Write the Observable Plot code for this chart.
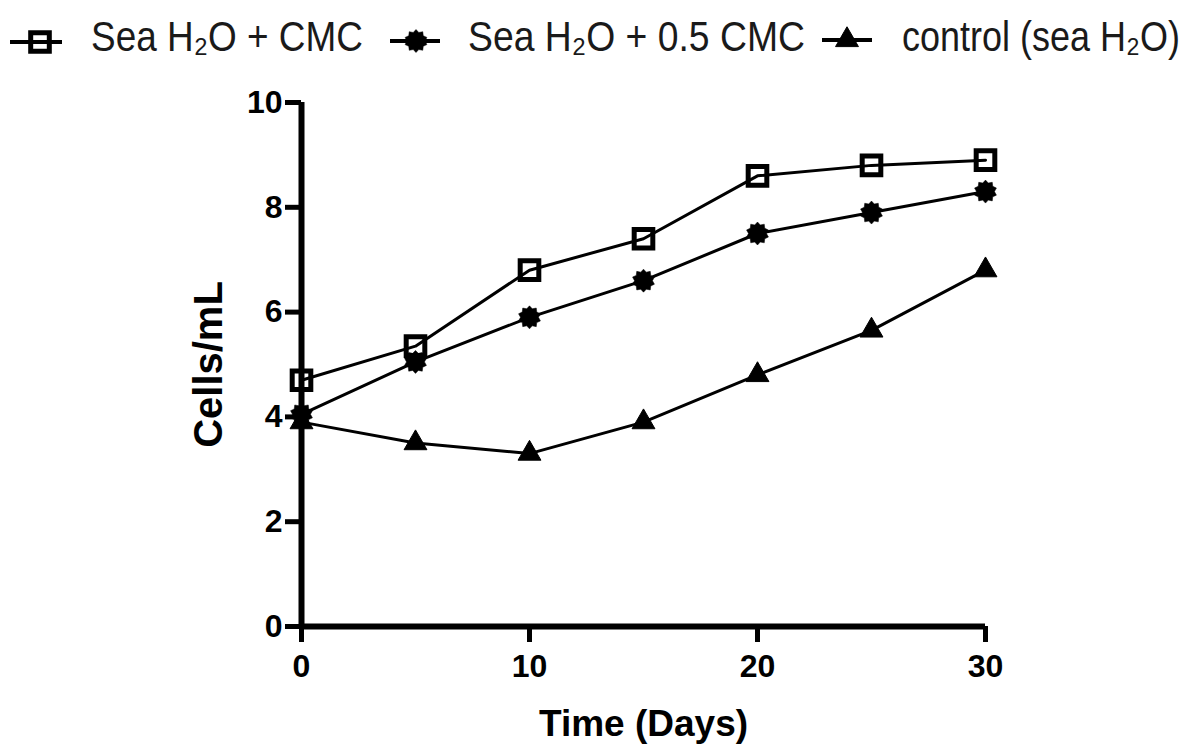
<!DOCTYPE html>
<html>
<head>
<meta charset="utf-8">
<script src="https://cdn.jsdelivr.net/npm/d3@7"></script>
<script src="https://cdn.jsdelivr.net/npm/@observablehq/plot@0.6"></script>
<style>
  html, body { margin: 0; padding: 0; background: #fff; }
  #wrap { position: relative; width: 1191px; height: 749px; overflow: hidden; }
  #legend { position: absolute; left: 0; top: 0; }
  #chart { position: absolute; left: 0; top: 75px; }
</style>
</head>
<body>
<div id="wrap"><div id="legend"></div><div id="chart"></div></div>
<script>
// ---- data ----
const days = [0, 5, 10, 15, 20, 25, 30];
const seaCMC = [4.7, 5.35, 6.8, 7.4, 8.6, 8.8, 8.9];
const seaHalfCMC = [4.05, 5.05, 5.9, 6.6, 7.5, 7.9, 8.3];
const control = [3.9, 3.5, 3.3, 3.9, 4.8, 5.65, 6.8];
const xTicks = [0, 10, 20, 30];
const yTicks = [0, 2, 4, 6, 8, 10];
const seriesNames = ["Sea H\u2082O + CMC", "Sea H\u2082O + 0.5 CMC", "control (sea H\u2082O)"];
const xLabel = "Time (Days)";
const yLabel = "Cells/mL";

const toRows = (vals) => days.map((d, i) => ({day: d, cells: vals[i]}));

// spiky filled "star" marker
const starSym = {
  draw(ctx, size) {
    const R = Math.sqrt(size / Math.PI);
    const n = 10;
    for (let i = 0; i < 2 * n; i++) {
      const a = i * Math.PI / n - Math.PI / 2;
      const rr = i % 2 ? R * 0.78 : R;
      const x = rr * Math.cos(a), y = rr * Math.sin(a);
      if (i) ctx.lineTo(x, y); else ctx.moveTo(x, y);
    }
    ctx.closePath();
  }
};

const font = '"Liberation Sans", Arial, Helvetica, sans-serif';
const lineW = 3;

const series = [
  {rows: toRows(seaCMC), symbol: "square", r: 10.5, fill: "none", stroke: "black", sw: 5},
  {rows: toRows(seaHalfCMC), symbol: starSym, r: 11.5, fill: "black", stroke: "black", sw: 0.5},
  {rows: toRows(control), symbol: "triangle", r: 8.5, fill: "black", stroke: "black", sw: 1}
];

const marks = [
  Plot.axisY({ticks: yTicks, tickSize: 16, tickPadding: 3, strokeWidth: 5, fontSize: 32, fontWeight: "bold", fill: "black", label: null}),
  Plot.axisX({ticks: xTicks, tickSize: 16, tickPadding: 12, strokeWidth: 5, fontSize: 32, fontWeight: "bold", fill: "black", label: null}),
  Plot.ruleX([0], {strokeWidth: 6, stroke: "black"}),
  Plot.ruleY([0], {strokeWidth: 6, stroke: "black"})
];
for (const s of series) {
  marks.push(Plot.line(s.rows, {x: "day", y: "cells", stroke: "black", strokeWidth: lineW}));
}
for (const s of series) {
  marks.push(Plot.dot(s.rows, {x: "day", y: "cells", symbol: () => s.symbol, r: s.r, fill: s.fill, stroke: s.stroke, strokeWidth: s.sw}));
}
marks.push(Plot.text([xLabel], {frameAnchor: "bottom", dy: 109, lineAnchor: "bottom", fontSize: 37, fontWeight: "bold", fill: "black"}));
marks.push(Plot.text([yLabel], {frameAnchor: "left", dx: -80, rotate: -90, textAnchor: "middle", lineAnchor: "bottom", fontSize: 40, fontWeight: "bold", fill: "black"}));

const chart = Plot.plot({
  width: 1191,
  height: 674,
  marginTop: 27,
  marginBottom: 123,
  marginLeft: 301,
  marginRight: 206,
  x: {domain: [0, 30]},
  y: {domain: [0, 10]},
  symbol: {type: "identity"},
  style: {fontFamily: font, color: "black", background: "white", overflow: "visible"},
  marks
});
document.getElementById("chart").appendChild(chart);

// ---- legend ----
const leg = d3.create("svg").attr("width", 1191).attr("height", 75)
  .style("font-family", font);
document.getElementById("legend").appendChild(leg.node());
const legItems = [
  {x1: 10, x2: 62, cx: 40, cy: 42, sym: d3.symbolSquare, r: 10.5, fill: "none", sw: 5, tx: 91, tw: 272},
  {x1: 390, x2: 440, cx: 416, cy: 41, sym: starSym, r: 11.5, fill: "black", sw: 0.5, tx: 468, tw: 337},
  {x1: 822, x2: 872, cx: 847, cy: 40, sym: d3.symbolTriangle, r: 8.5, fill: "black", sw: 1, tx: 902, tw: 278}
];
legItems.forEach((it, i) => {
  const g = leg.append("g");
  g.append("line").attr("x1", it.x1).attr("x2", it.x2).attr("y1", it.cy).attr("y2", it.cy)
    .attr("stroke", "black").attr("stroke-width", 4);
  g.append("path").attr("d", d3.symbol(it.sym, it.r * it.r * Math.PI)())
    .attr("transform", `translate(${it.cx},${it.cy})`)
    .attr("fill", it.fill).attr("stroke", "black").attr("stroke-width", it.sw);
  const t = g.append("text").attr("x", 0).attr("y", 0)
    .attr("font-size", 42).attr("fill", "#1a1a1a")
    .text(seriesNames[i]);
  const natural = t.node().getComputedTextLength() || it.tw;
  const sx = it.tw / natural;
  t.attr("transform", `translate(${it.tx},51) scale(${sx},1)`);
});
</script>
</body>
</html>
